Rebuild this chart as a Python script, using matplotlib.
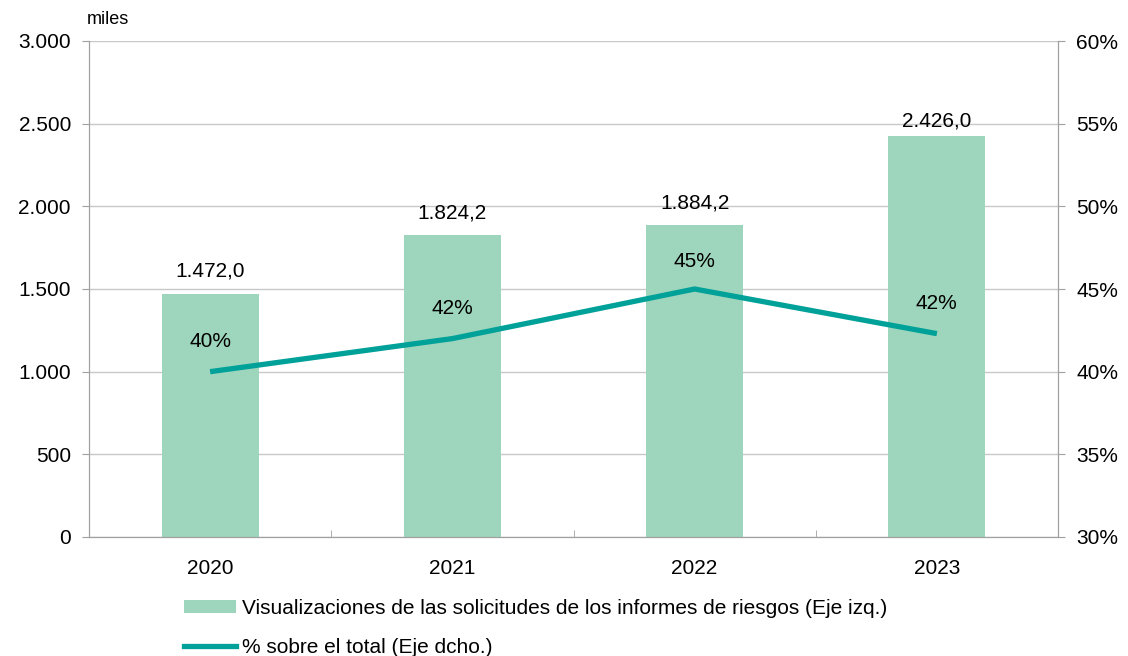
import matplotlib
matplotlib.use("Agg")
import matplotlib.pyplot as plt
from matplotlib.patches import Patch
from matplotlib.lines import Line2D

years = ["2020", "2021", "2022", "2023"]
views = [1472.0, 1824.2, 1884.2, 2426.0]
pct = [40.0, 42.0, 45.0, 42.3]
pct_labels = ["40%", "42%", "45%", "42%"]
left_ticks = [0, 500, 1000, 1500, 2000, 2500, 3000]
right_ticks = [30, 35, 40, 45, 50, 55, 60]

bar_color = "#9dd5bd"
line_color = "#00a199"
grid_color = "#c8c8c8"
axis_color = "#a0a0a0"
FS = 15

plt.rcParams['font.family'] = ['Liberation Sans', 'DejaVu Sans']

fig = plt.figure(figsize=(11.28, 6.56), dpi=100)
ax = fig.add_axes([89/1128, 1-537/656, (1058-89)/1128, (537-41)/656])
ax2 = ax.twinx()

x = list(range(len(years)))
ax.bar(x, views, width=0.4, color=bar_color, zorder=2)
ax.set_xlim(-0.5, 3.5)
ax.set_ylim(0, 3000)
ax.set_yticks(left_ticks)
ax.set_yticklabels([f"{v:,}".replace(",", ".") for v in left_ticks], fontsize=FS)
ax.set_xticks(x)
ax.set_xticklabels(years, fontsize=FS)
ax.set_xticks([0.5, 1.5, 2.5], minor=True)
ax.tick_params(axis='x', which='major', length=0, pad=16)
ax.tick_params(axis='x', which='minor', length=5, direction='in', color=axis_color)
ax.tick_params(axis='y', length=5, color=axis_color, pad=8)
ax.grid(axis='y', color=grid_color, linewidth=1, zorder=0)
ax.set_axisbelow(True)
for s in ax.spines.values():
    s.set_color(axis_color)
ax.spines['top'].set_visible(False)

bar_label_offsets = [135, 135, 135, 92]
for xi, v, off in zip(x, views, bar_label_offsets):
    ax.text(xi, v + off, f"{v:,.1f}".replace(",", "X").replace(".", ",").replace("X", "."),
            ha='center', va='center', fontsize=FS)

ax2.plot(x, pct, color=line_color, linewidth=3.8, solid_capstyle='butt', zorder=3)
ax2.set_ylim(30, 60)
ax2.set_yticks(right_ticks)
ax2.set_yticklabels([f"{t}%" for t in right_ticks], fontsize=FS)
ax2.tick_params(axis='y', length=5, color=axis_color, pad=8)
for s in ax2.spines.values():
    s.set_color(axis_color)
ax2.spines['top'].set_visible(False)

label_offsets = [1.85, 1.85, 1.65, 1.85]
for xi, p, lab, off in zip(x, pct, pct_labels, label_offsets):
    ax2.text(xi, p + off, lab, ha='center', va='center', fontsize=FS)

fig.text(87/1128, 1-19/656, "miles", fontsize=13, ha='left', va='center')

handles = [Patch(facecolor=bar_color, edgecolor='none'),
           Line2D([0], [0], color=line_color, linewidth=3.8)]
labels = ["Visualizaciones de las solicitudes de los informes de riesgos (Eje izq.)",
          "% sobre el total (Eje dcho.)"]
fig.legend(handles, labels, loc='upper left', bbox_to_anchor=(184/1128, 1-599/656),
           frameon=False, fontsize=FS, handlelength=2.5, handleheight=0.55,
           labelspacing=0.95, handletextpad=0.3, borderpad=0, borderaxespad=0)

fig.savefig("out.png", dpi=100)
